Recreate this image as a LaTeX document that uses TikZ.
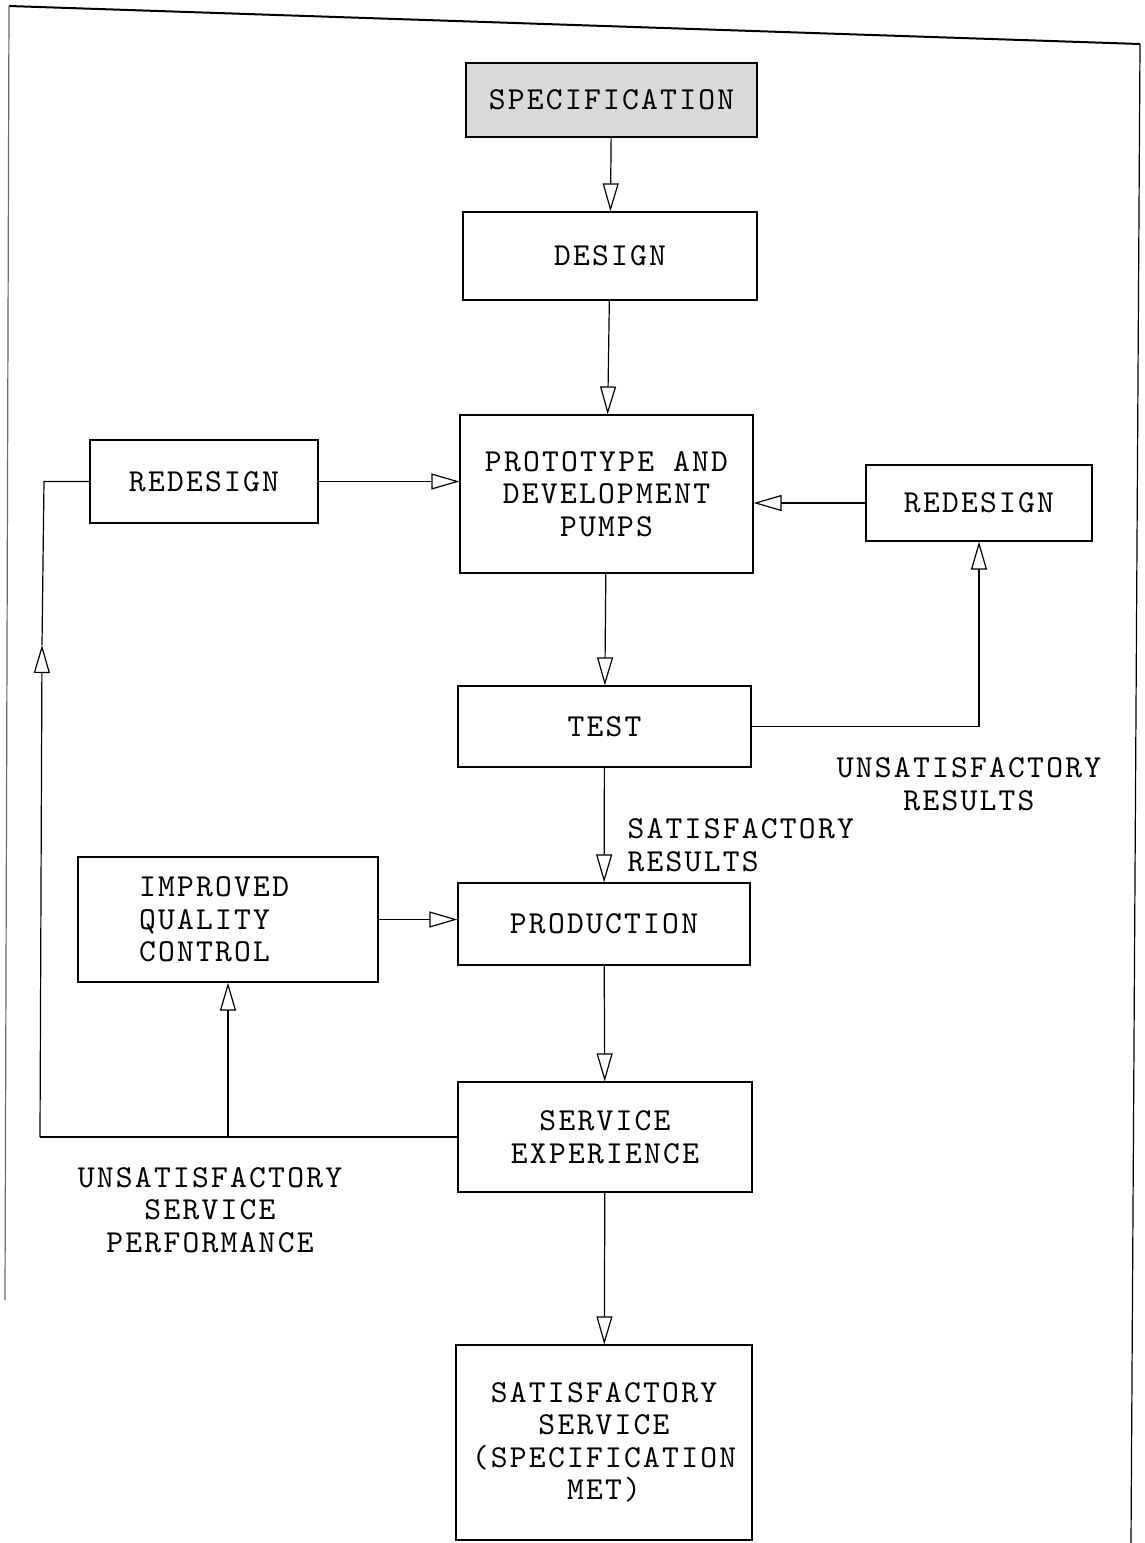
\documentclass[tikz,border=0pt]{standalone}
\usepackage{fontspec}
\setmonofont[LetterSpace=7]{lmmono10-regular.otf}
\usetikzlibrary{arrows.meta}

\begin{document}
\begin{tikzpicture}[x=1pt,y=-1pt,line width=1.2pt]
		\tikzstyle{stage}=[draw,rectangle,inner sep=0pt,align=center,font=\fontsize{32}{32.5}\selectfont\ttfamily]
		\tikzstyle{note}=[inner sep=0pt,align=center,font=\fontsize{32}{32.5}\selectfont\ttfamily]
		\tikzstyle{flow}=[-{Triangle[open,length=28pt,width=16pt,line width=1.2pt]}]
		\useasboundingbox (0,0) rectangle (1144,1543);

		% page edges of the scan
		\draw[line width=2pt] (9,6) -- (1140,44);
		\draw[black!60] (9,6) -- (5,1300);
		\draw (1140,44) -- (1131,1543);

		\node[stage,fill=black!15,minimum width=291pt,minimum height=74pt] (spec) at (611.5,100) {SPECIFICATION};
		\node[stage,minimum width=294pt,minimum height=88pt] (design) at (610,256) {DESIGN};
		\node[stage,minimum width=293pt,minimum height=158pt] (proto) at (606.5,494) {PROTOTYPE AND\\DEVELOPMENT\\PUMPS};
		\node[stage,minimum width=228pt,minimum height=83pt] (redesignL) at (204,481.5) {REDESIGN};
		\node[stage,minimum width=226pt,minimum height=76pt] (redesignR) at (979,503) {REDESIGN};
		\node[stage,minimum width=293pt,minimum height=81pt] (test) at (604.5,726.5) {TEST};
		\node[stage,minimum width=292pt,minimum height=82pt] (production) at (604,924) {PRODUCTION};
		\node[stage,minimum width=300pt,minimum height=125pt,text width=240pt,align=left] (quality) at (228,919.5) {\hspace*{31pt}IMPROVED\\\hspace*{31pt}QUALITY\\\hspace*{31pt}CONTROL};
		\node[stage,minimum width=294pt,minimum height=110pt] (service) at (605,1137) {SERVICE\\EXPERIENCE};
		\node[stage,minimum width=296pt,minimum height=195pt] (satisfied) at (604,1442.5) {SATISFACTORY\\SERVICE\\(SPECIFICATION\\MET)};

		\node[note] (unsatRes) at (969,784) {UNSATISFACTORY\\RESULTS};
		\node[note,anchor=west,align=left] (satRes) at (627,845) {SATISFACTORY\\RESULTS};
		\node[note] (unsatServ) at (210,1210) {UNSATISFACTORY\\SERVICE\\PERFORMANCE};

		\coordinate (loopL) at (40,1137);
		\coordinate (loopMid) at (42,645);
		\coordinate (loopTop) at (44,481.5);

		\draw[flow] (spec) -- (design);
		\draw[flow] (design) -- (proto);
		\draw[flow] (proto) -- (test);
		\draw[flow] (test) -- (production);
		\draw[flow] (production) -- (service);
		\draw[flow] (service) -- (satisfied);
		\draw[flow] (redesignL.east) -- (redesignL.east -| proto.west);
		\draw[flow] (redesignR.west) -- (redesignR.west -| proto.east);
		\draw[flow] (test.east) -| (redesignR.south);
		\draw[flow] (quality.east) -- (quality.east -| production.west);
		\draw (service.west) -- (loopL);
		\draw[flow] (loopL) -- (loopMid);
		\draw (loopMid) -- (loopTop) -- (redesignL.west);
		\draw[flow] (quality.south |- loopL) -- (quality.south);
\end{tikzpicture}
\end{document}
